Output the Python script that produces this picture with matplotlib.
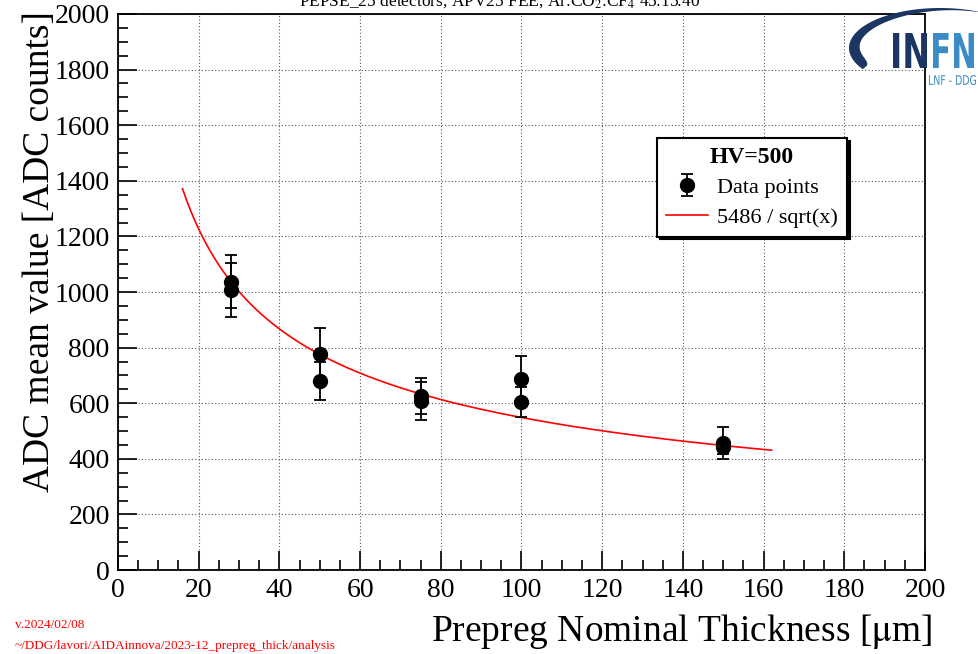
import numpy as np
import matplotlib.pyplot as plt
from matplotlib.patches import PathPatch, Polygon
from matplotlib.textpath import TextPath
from matplotlib.font_manager import FontProperties
from matplotlib.transforms import Affine2D
from matplotlib.ticker import MultipleLocator

plt.rcParams['font.family'] = ['Liberation Serif', 'DejaVu Serif']
plt.rcParams['mathtext.fontset'] = 'stix'

# measurements at HV=500
thickness = [28, 28, 50, 50, 75, 75, 100, 100, 150, 150]
adc_mean = [1037, 1007, 776, 681, 625, 608, 687, 603, 456, 441]
adc_err = [95, 97, 93, 69, 65, 70, 84, 54, 57, 25]

fit_norm = 5486
fit_range = [16, 162]

fig = plt.figure(figsize=(9.79, 6.54), dpi=100)
ax = fig.add_axes([0.1205, 0.1284, 0.8243, 0.8502])

# fit curve
xf = np.linspace(fit_range[0], fit_range[1], 300)
ax.plot(xf, fit_norm / np.sqrt(xf), color='red', lw=1.2, zorder=3,
        label='5486 / sqrt(x)')

ax.errorbar(thickness, adc_mean, yerr=adc_err, fmt='o', color='black',
            ms=10, elinewidth=1.3, capsize=4.5, capthick=1.3, zorder=4,
            label='Data points')

ax.set_xlim(0, 200)
ax.set_ylim(0, 2000)
ax.xaxis.set_major_locator(MultipleLocator(20))
ax.xaxis.set_minor_locator(MultipleLocator(5))
ax.yaxis.set_major_locator(MultipleLocator(200))
ax.yaxis.set_minor_locator(MultipleLocator(50))
ax.tick_params(which='both', direction='in', top=False, right=False,
               labelsize=20, width=1.2)
ax.tick_params(which='major', length=14, pad=6)
ax.tick_params(which='minor', length=7)
ax.grid(True, which='major', ls=(0, (1, 2)), color='#555555', lw=0.8)
for s in ax.spines.values():
    s.set_linewidth(1.3)

ax.set_ylabel('ADC mean value [ADC counts]', fontsize=27)
ax.yaxis.set_label_coords(-0.076, 0.572)
fig.text(0.952, 0.034, r'Prepreg Nominal Thickness [$\mathrm{\mu}$m]',
         fontsize=27, ha='right', va='center')

# legend in ROOT style, with shadow
handles, labels = ax.get_legend_handles_labels()
leg = ax.legend(handles[::-1], labels[::-1], title='HV=500',
                loc='upper left', bbox_to_anchor=(0.668, 0.777),
                fontsize=16, title_fontproperties={'size': 17, 'weight': 'bold'},
                frameon=True, fancybox=False, shadow={'color': 'black', 'alpha': 1},
                edgecolor='black', framealpha=1, borderpad=0.4,
                handlelength=1.9, handletextpad=0.4, labelspacing=0.42,
                borderaxespad=0)
leg.get_frame().set_linewidth(1.5)

# header, partly outside the canvas
fig.text(0.51, 0.999,
         r'PEPSE_25 detectors, APV25 FEE, Ar:CO$_2$:CF$_4$ 45:15:40',
         fontsize=12.5, ha='center', va='center')

# version info
fig.text(0.015, 0.040, 'v.2024/02/08', color='red', fontsize=9.5)
fig.text(0.015, 0.008, '~/DDG/lavori/AIDAinnova/2023-12_prepreg_thick/analysis',
         color='red', fontsize=9.5)

# INFN logo, drawn in pixel units of the top-right corner
navy = '#1c3563'
light = '#3b8cc4'
logo = fig.add_axes([840 / 979, 1 - 92 / 654, 139 / 979, 92 / 654])
logo.set_xlim(840, 979)
logo.set_ylim(92, 0)
logo.axis('off')

# swoosh: open "C" arc, thick on the left and thinning to the upper right
t = np.radians(np.linspace(212, 60, 150))
s = np.linspace(0, 1, 150)
w = 11 * np.sin(np.pi * s ** 0.35)
cx, cy, a, b = 940, 48, 91, 40
outer = np.column_stack([cx + a * np.cos(t), cy - b * np.sin(t)])
inner = np.column_stack([cx + (a - w) * np.cos(t), cy - (b - w) * np.sin(t)])
logo.add_patch(Polygon(np.vstack([outer, inner[::-1]]), closed=True,
                       color=navy, lw=0))


def logo_text(txt, x0, x1, y0, y1, color, weight='bold', family='DejaVu Sans'):
    tp = TextPath((0, 0), txt, size=1,
                  prop=FontProperties(family=family, weight=weight))
    ext = tp.get_extents()
    tr = (Affine2D().translate(-ext.x0, -ext.y0)
          .scale((x1 - x0) / ext.width, -(y1 - y0) / ext.height)
          .translate(x0, y1))
    logo.add_patch(PathPatch(tr.transform_path(tp), color=color, lw=0))


logo_text('IN', 893, 927, 33, 68, navy)
logo_text('FN', 933, 974, 33, 68, light)
logo_text('LNF - DDG', 929, 976, 75, 85, light, weight='normal')

fig.savefig('out.png', dpi=100)
